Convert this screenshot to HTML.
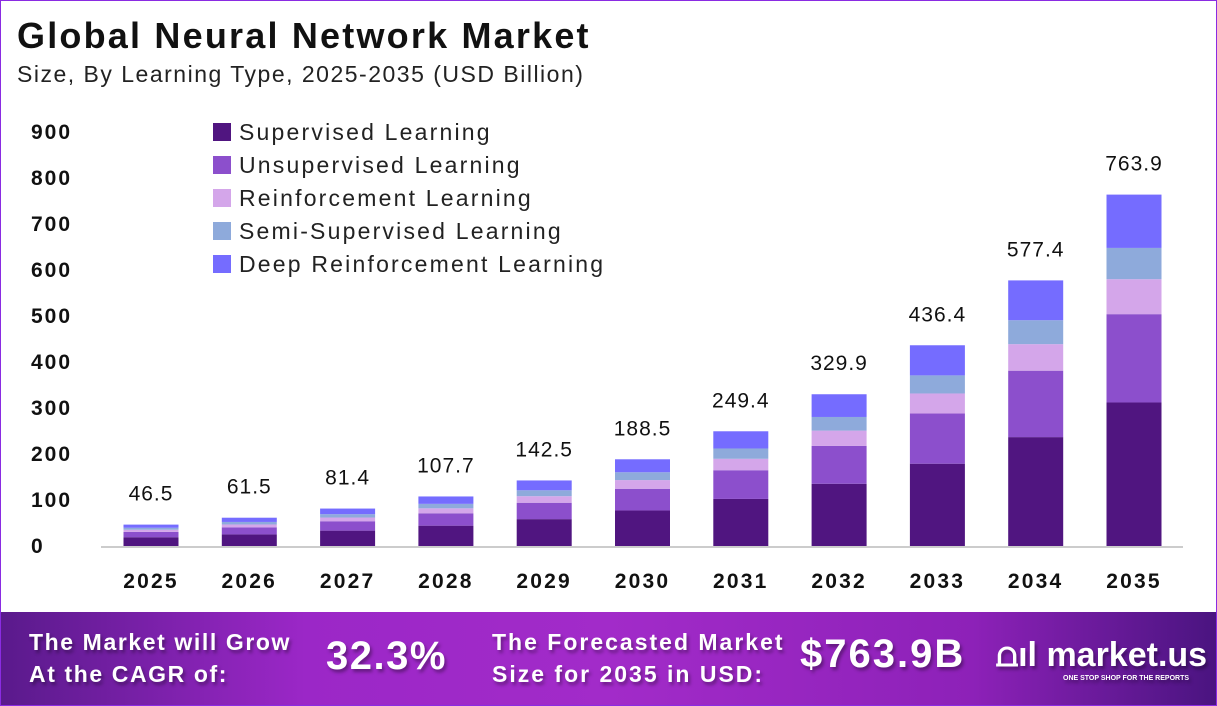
<!DOCTYPE html>
<html><head><meta charset="utf-8"><style>
body{margin:0;width:1217px;height:706px;overflow:hidden;background:#fff;font-family:"Liberation Sans",sans-serif;}
#wrap{position:relative;width:1215px;height:704px;border:1px solid #8a2be2;}
.t{position:absolute;white-space:nowrap;}
#footer{position:absolute;left:0;top:611px;width:1215px;height:93px;background:linear-gradient(90deg,#5a1a8c 0%,#9b27c7 25%,#a22bc9 50%,#8d21b8 80%,#4a1480 100%);}
.f{position:absolute;color:#fff;font-weight:bold;text-shadow:2px 3px 3px rgba(0,0,0,.35);white-space:nowrap;}
</style></head><body>
<div id="wrap">
<div class="t" style="left:16px;top:14px;font-size:36px;font-weight:bold;color:#111;letter-spacing:2.2px;">Global Neural Network Market</div>
<div class="t" style="left:16px;top:60px;font-size:23px;color:#222;letter-spacing:1.5px;">Size, By Learning Type, 2025-2035 (USD Billion)</div>
<svg id="chart" width="1215" height="611" style="position:absolute;left:0;top:0"></svg>
<div id="footer">
<div class="f" style="left:28px;top:14px;font-size:23px;line-height:32px;letter-spacing:1.6px;">The Market will Grow<br>At the CAGR of:</div>
<div class="f" style="left:325px;top:22px;font-size:40px;letter-spacing:1.5px;">32.3%</div>
<div class="f" style="left:491px;top:14px;font-size:23px;line-height:32px;letter-spacing:2px;">The Forecasted Market<br>Size for 2035 in USD:</div>
<div class="f" style="left:799px;top:20px;font-size:40px;letter-spacing:2px;">$763.9B</div>
<div class="f" style="left:995px;top:24px;font-size:34px;">⩍ıl market.us</div>
<div class="f" style="left:1062px;top:63px;font-size:7px;">ONE STOP SHOP FOR THE REPORTS</div>
</div>
</div>
<script>
const years=["2025","2026","2027","2028","2029","2030","2031","2032","2033","2034","2035"];
const totals=[46.5,61.5,81.4,107.7,142.5,188.5,249.4,329.9,436.4,577.4,763.9];
const supervised=[19.1,25.2,33.4,44.2,58.4,77.3,102.3,135.3,178.9,236.7,312];
const unsupervised=[11.6,15.4,20.4,26.9,35.6,47.1,62.4,82.5,109.1,144.4,192];
const reinforcement=[4.7,6.2,8.1,10.8,14.3,18.9,24.9,33.0,43.6,57.7,76];
const semiSupervised=[4.2,5.5,7.3,9.7,12.8,17.0,22.4,29.7,39.3,52.0,68];
const deepReinforcement=[6.9,9.2,12.2,16.1,21.4,28.2,37.4,49.4,65.5,86.6,115.9];
const yTicks=[0,100,200,300,400,500,600,700,800,900];
const seriesNames=["Supervised Learning","Unsupervised Learning","Reinforcement Learning","Semi-Supervised Learning","Deep Reinforcement Learning"];
const colors=["#501580","#8c4fcc","#d4a6ea","#8eaadb","#756cff"];
const series=[supervised,unsupervised,reinforcement,semiSupervised,deepReinforcement];
const svg=document.getElementById('chart');
const NS="http://www.w3.org/2000/svg";
const y0=545,pxPer=414/900;
const yS=v=>y0-v*pxPer;
const xS=i=>150+i*98.3;
function mk(tag,attrs,text){const e=document.createElementNS(NS,tag);for(const k in attrs)e.setAttribute(k,attrs[k]);if(text!==undefined)e.textContent=text;svg.appendChild(e);return e;}
yTicks.forEach(t=>{
 const e=mk('text',{x:30,y:yS(t)+7,'font-size':21,'font-weight':'bold',fill:'#111','letter-spacing':2},String(t));
 
 
});
const ax=mk('line',{x1:100,x2:1182,y1:y0+1,y2:y0+1,stroke:'#ccc','stroke-width':2});


years.forEach((yr,i)=>{
 let acc=0;
 series.forEach((s,k)=>{
  const r=mk('rect',{x:xS(i)-27.5,y:yS(acc+s[i]),width:55,height:s[i]*pxPer,fill:colors[k]});
  
  
  acc+=s[i];
 });
 const v=mk('text',{x:xS(i),y:yS(totals[i])-24,'font-size':21,'text-anchor':'middle',fill:'#111','letter-spacing':1},totals[i].toFixed(1));
 
 
 const l=mk('text',{x:xS(i),y:587,'font-size':21,'font-weight':'bold','text-anchor':'middle',fill:'#111','letter-spacing':2.2},yr);
 
 
});
seriesNames.forEach((n,k)=>{
 const yy=131+k*33;
 const sq=mk('rect',{x:212,y:yy-9,width:18,height:18,fill:colors[k]});
 
 
 const t=mk('text',{x:238,y:yy+8,'font-size':23,fill:'#222','letter-spacing':2.2},n);
 
 
});
</script>
</body></html>
